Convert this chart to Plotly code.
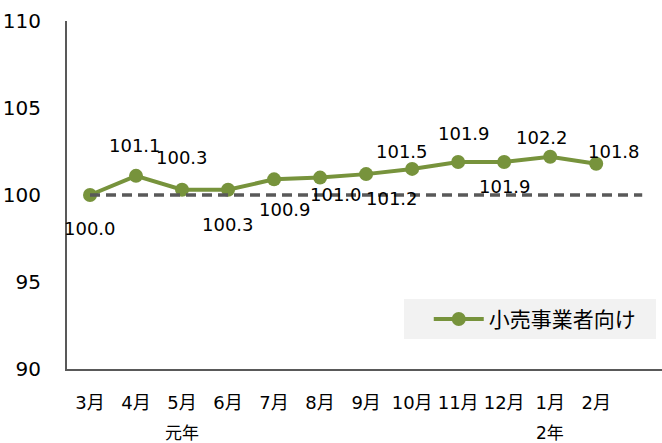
import plotly.graph_objects as go

months = ["3月", "4月", "5月", "6月", "7月", "8月", "9月", "10月", "11月", "12月", "1月", "2月"]
values = [100.0, 101.1, 100.3, 100.3, 100.9, 101.0, 101.2, 101.5, 101.9, 101.9, 102.2, 101.8]
series_name = "小売事業者向け"
base_value = 100
year_labels = [("元年", 2), ("2年", 10)]
y_ticks = [90, 95, 100, 105, 110]

# label offsets (px) relative to each point: (dx, dy down)
label_offsets = [(0, 33), (-1, -30), (0, -32), (0, 35), (11, 30), (16, 17),
                 (26, 24), (-10, -17), (6, -28), (1, 25), (-8, -19), (18, -12)]

FONT = "DejaVu Sans, Noto Sans CJK JP, sans-serif"
GREEN = "#77933C"
GRAY = "#595959"

x = list(range(len(months)))

fig = go.Figure()
fig.add_trace(go.Scatter(
    x=x, y=values, mode="lines+markers", name=series_name,
    line=dict(color=GREEN, width=4),
    marker=dict(color=GREEN, size=14),
    showlegend=True,
))
fig.add_trace(go.Scatter(
    x=[0, len(months)], y=[base_value, base_value], mode="lines",
    line=dict(color=GRAY, width=3.5, dash="10px,6px"),
    showlegend=False, hoverinfo="skip",
))

annotations = []
for i, v in enumerate(values):
    dx, dy = label_offsets[i]
    annotations.append(dict(
        x=i, y=v, xref="x", yref="y", text=f"{v:.1f}", showarrow=False,
        xshift=dx, yshift=-dy, font=dict(family=FONT, size=18, color="#000000"),
    ))
for txt, idx in year_labels:
    annotations.append(dict(
        x=idx, y=-0.183, xref="x", yref="paper", text=txt, showarrow=False,
        yanchor="middle", font=dict(family=FONT, size=17, color="#000000"),
    ))

fig.update_layout(
    width=662, height=443,
    margin=dict(l=67, r=0, t=21, b=74, autoexpand=False),
    paper_bgcolor="white", plot_bgcolor="white",
    font=dict(family=FONT, color="#000000"),
    annotations=annotations,
    shapes=[dict(type="rect", xref="paper", yref="paper",
                 x0=0.5664, x1=0.99, y0=0.086, y1=0.201,
                 fillcolor="#F2F2F2", line=dict(width=0), layer="below")],
    legend=dict(x=0.608, y=0.2015, xanchor="left", yanchor="top",
                bgcolor="rgba(0,0,0,0)", font=dict(family=FONT, size=21, color="#000000"),
                itemwidth=50),
    xaxis=dict(
        range=[-0.5, 12.43], tickvals=x, ticktext=months,
        showline=True, linecolor=GRAY, linewidth=2,
        showgrid=False, zeroline=False, ticks="", automargin=False,
        tickfont=dict(family=FONT, size=18, color="#000000"),
        ticklabelstandoff=16,
    ),
    yaxis=dict(
        range=[90, 110], tickvals=y_ticks,
        showline=True, linecolor=GRAY, linewidth=2,
        showgrid=False, zeroline=False, ticks="", automargin=False,
        tickfont=dict(family=FONT, size=20, color="#000000"),
        ticklabelstandoff=20,
    ),
)

fig.write_html("out.html", config={"displayModeBar": False},
               post_script="document.body.style.margin='0';")
